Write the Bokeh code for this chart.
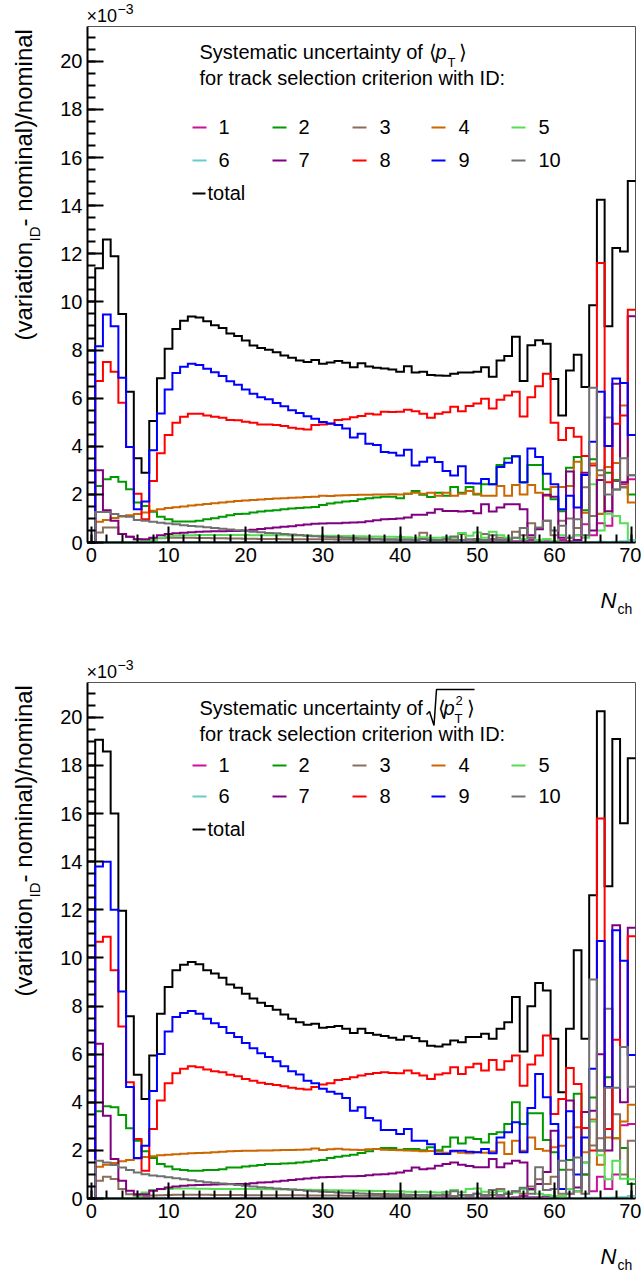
import numpy as np
from bokeh.plotting import figure
from bokeh.models import Range1d, FixedTicker, Label
from bokeh.layouts import column
from bokeh.embed import file_html
from bokeh.resources import INLINE

# ---------------- data: bin contents (x 1e-3) for N_ch = 0..70 ----------------
X_TICKS = [0, 10, 20, 30, 40, 50, 60, 70]
X_MINOR = [0, 2, 4, 6, 8, 10, 12, 14, 16, 18, 20, 22, 24, 26, 28, 30, 32, 34, 36, 38, 40,
           42, 44, 46, 48, 50, 52, 54, 56, 58, 60, 62, 64, 66, 68, 70]
Y_TICKS = [0, 2, 4, 6, 8, 10, 12, 14, 16, 18, 20]
Y_MINOR = [0, 0.5, 1, 1.5, 2, 2.5, 3, 3.5, 4, 4.5, 5, 5.5, 6, 6.5, 7, 7.5, 8, 8.5, 9, 9.5, 10,
           10.5, 11, 11.5, 12, 12.5, 13, 13.5, 14, 14.5, 15, 15.5, 16, 16.5, 17, 17.5, 18,
           18.5, 19, 19.5, 20, 20.5, 21]
IDS = ["1", "2", "3", "4", "5", "6", "7", "8", "9", "10"]
COLORS = ["#cc1199", "#009a00", "#8b6d5c", "#cc6600", "#55dd55",
          "#66cccc", "#800080", "#ff0000", "#0000ff", "#707070"]

# ---- <pT> panel ----
T_total = [0, 11.4, 12.6, 11.9, 9.5, 6.27, 3.5, 2.9, 5.05, 6.83,
           8.05, 8.87, 9.22, 9.39, 9.35, 9.2, 9.03, 8.92, 8.69, 8.58,
           8.4, 8.19, 8.09, 8.01, 7.91, 7.77, 7.68, 7.57, 7.5, 7.59,
           7.43, 7.48, 7.54, 7.47, 7.29, 7.45, 7.32, 7.26, 7.23, 7.19,
           7.1, 7.33, 7.07, 7.1, 6.96, 6.94, 6.93, 7.01, 7.07, 7.07,
           7.1, 7.29, 6.89, 7.57, 7.75, 8.55, 6.71, 8.2, 8.41, 8.26,
           6.8, 5.28, 7.15, 7.8, 6.46, 9.86, 14.25, 8.99, 12.24, 12.1,
           15.03]
T_id1 = [0, 0, 0.01, 0.01, 0.01, 0.01, 0.01, 0.01, 0.02, 0.02,
         0.02, 0.02, 0.02, 0.02, 0.02, 0.02, 0.02, 0.02, 0.02, 0.02,
         0.02, 0.02, 0.02, 0.02, 0.02, 0.02, 0.02, 0.02, 0.02, 0.02,
         0.02, 0.02, 0.02, 0.02, 0.02, 0.02, 0.02, 0.02, 0.02, 0.02,
         0.03, 0.03, 0.03, 0.03, 0.05, 0.03, 0.03, 0.03, 0.1, 0.03,
         0.05, 0.03, 0.05, 0.05, 0.05, 0.05, 0.05, 0.1, 0.05, 0.05,
         0.05, 0.1, 0.05, 0.3, 0.76, 0.3, 0.8, 0.7, 2.56, 2.42,
         2.63]
T_id2 = [0, 2.35, 2.63, 2.72, 2.53, 2.21, 1.66, 1.52, 1.28, 1.07,
         0.97, 0.87, 0.87, 0.87, 0.9, 0.97, 1.01, 1.07, 1.13, 1.18,
         1.2, 1.25, 1.29, 1.32, 1.34, 1.38, 1.41, 1.43, 1.45, 1.48,
         1.56, 1.62, 1.66, 1.7, 1.73, 1.8, 1.84, 1.87, 1.9, 1.9,
         1.84, 2.03, 2.14, 1.98, 1.89, 2.07, 1.94, 2.31, 2.07, 2.31,
         2.0, 2.42, 2.42, 3.22, 3.5, 3.6, 2.49, 3.22, 3.22, 2.21,
         1.8, 1.3, 3.11, 3.55, 1.34, 3.46, 1.2, 2.9, 2.6, 2.3,
         2.0]
T_id3 = [0, 0.42, 0.62, 0.62, 0.35, 0.24, 0.14, 0.1, 0.15, 0.18,
         0.2, 0.2, 0.2, 0.2, 0.19, 0.19, 0.18, 0.18, 0.17, 0.17,
         0.16, 0.16, 0.15, 0.15, 0.15, 0.14, 0.14, 0.14, 0.13, 0.13,
         0.13, 0.13, 0.12, 0.12, 0.12, 0.12, 0.12, 0.12, 0.11, 0.11,
         0.11, 0.12, 0.1, 0.41, 0.12, 0.1, 0.15, 0.1, 0.35, 0.12,
         0.15, 0.35, 0.15, 0.2, 0.1, 0.45, 0.3, 0.8, 0.6, 0.9,
         0.3, 0.9, 1.0, 0.6, 2.3, 1.1, 2.8, 5.2, 2.2, 2.3,
         2.8]
T_id4 = [0, 0.86, 0.94, 1.02, 1.08, 1.13, 1.18, 1.25, 1.32, 1.38,
         1.43, 1.47, 1.5, 1.54, 1.57, 1.6, 1.63, 1.66, 1.69, 1.72,
         1.75, 1.77, 1.79, 1.81, 1.83, 1.84, 1.86, 1.87, 1.89, 1.9,
         1.94, 1.93, 1.95, 1.96, 1.97, 1.98, 1.99, 2.0, 2.0, 2.01,
         2.0, 2.03, 2.07, 2.03, 2.07, 1.94, 2.07, 1.94, 2.03, 2.14,
         2.03, 1.94, 1.94, 2.35, 1.94, 2.39, 2.0, 2.39, 2.07, 1.94,
         2.31, 2.31, 2.35, 3.36, 1.24, 3.28, 1.18, 3.14, 3.3, 5.7,
         1.66]
T_id5 = [0, 0, 0, 0, 0, 0, 0.02, 0.05, 0.1, 0.2,
         0.26, 0.28, 0.3, 0.3, 0.31, 0.31, 0.31, 0.31, 0.31, 0.31,
         0.31, 0.3, 0.3, 0.3, 0.3, 0.3, 0.29, 0.29, 0.29, 0.28,
         0.28, 0.28, 0.27, 0.27, 0.26, 0.26, 0.25, 0.25, 0.24, 0.24,
         0.23, 0.22, 0.2, 0.22, 0.2, 0.2, 0.22, 0.2, 0.4, 0.28,
         0.42, 0.2, 0.45, 0.3, 0.2, 0.2, 0.15, 0.2, 0.1, 0.15,
         0.05, 0.3, 0.2, 0.3, 0.2, 2.42, 0.5, 1.2, 1.1, 0.8,
         0.1]
T_id6 = [0, 0, 0, 0, 0, 0, 0, 0, 0.01, 0.01,
         0.01, 0.01, 0.01, 0.01, 0.01, 0.01, 0.01, 0.01, 0.01, 0.01,
         0.01, 0.01, 0.01, 0.01, 0.01, 0.01, 0.01, 0.01, 0.01, 0.01,
         0.01, 0.01, 0.01, 0.01, 0.01, 0.01, 0.01, 0.01, 0.01, 0.01,
         0.01, 0.01, 0.01, 0.01, 0.01, 0.01, 0.01, 0.01, 0.01, 0.01,
         0.01, 0.01, 0.01, 0.01, 0.01, 0.01, 0.01, 0.01, 0.01, 0.01,
         0.01, 0.01, 0.01, 0.02, 0.01, 0.02, 0.03, 0.02, 0.03, 0.05,
         0.1]
T_id7 = [0, 3.0, 1.34, 0.9, 0.35, 0.24, 0.14, 0.14, 0.2, 0.3,
         0.35, 0.38, 0.41, 0.43, 0.45, 0.46, 0.47, 0.47, 0.48, 0.48,
         0.5, 0.53, 0.56, 0.59, 0.62, 0.65, 0.68, 0.72, 0.75, 0.78,
         0.79, 0.8, 0.8, 0.82, 0.83, 0.84, 0.88, 0.93, 0.97, 0.98,
         1.0, 1.04, 1.15, 1.15, 1.24, 1.38, 1.31, 1.31, 1.29, 1.31,
         1.22, 1.59, 1.29, 1.45, 1.59, 1.59, 1.38, 0.3, 0.55, 1.98,
         1.9, 0.2, 2.95, 0.1, 2.9, 0.5, 2.6, 1.3, 6.6, 2.5,
         9.4]
T_id8 = [0, 6.71, 7.5, 7.1, 5.81, 3.97, 2.03, 0.97, 2.56, 3.71,
         4.47, 4.98, 5.23, 5.35, 5.35, 5.28, 5.23, 5.19, 5.09, 5.08,
         5.02, 4.98, 4.91, 4.91, 4.88, 4.84, 4.77, 4.73, 4.7, 4.88,
         4.91, 4.94, 5.09, 5.12, 5.21, 5.26, 5.35, 5.32, 5.44, 5.42,
         5.44, 5.52, 5.46, 5.35, 5.19, 5.35, 5.41, 5.64, 5.46, 5.67,
         5.78, 5.98, 5.57, 5.93, 6.11, 6.27, 5.24, 6.04, 6.5, 7.01,
         4.98, 4.26, 4.76, 4.4, 3.6, 3.2, 11.62, 2.5, 4.94, 5.28,
         9.68]
T_id9 = [0, 8.16, 9.48, 8.99, 6.85, 3.97, 1.38, 1.7, 3.83, 5.36,
         6.36, 7.05, 7.31, 7.43, 7.38, 7.22, 7.08, 6.92, 6.7, 6.56,
         6.36, 6.18, 6.04, 5.95, 5.8, 5.66, 5.5, 5.38, 5.25, 5.14,
         5.01, 4.95, 4.88, 4.74, 4.36, 4.52, 4.11, 4.05, 3.76, 3.73,
         3.62, 3.86, 3.2, 3.36, 3.53, 3.35, 2.97, 2.78, 3.17, 2.46,
         2.45, 2.64, 2.42, 3.14, 3.32, 3.57, 2.5, 3.91, 3.55, 2.86,
         2.42, 1.38, 1.94, 1.45, 2.81, 4.19, 6.27, 4.01, 6.82, 6.63,
         4.47]
T_id10 = [0, 1.27, 1.27, 1.18, 1.1, 1.07, 0.94, 0.9, 0.86, 0.82,
          0.79, 0.76, 0.72, 0.69, 0.66, 0.63, 0.6, 0.57, 0.54, 0.51,
          0.48, 0.45, 0.43, 0.4, 0.38, 0.35, 0.33, 0.31, 0.28, 0.26,
          0.24, 0.23, 0.22, 0.2, 0.19, 0.18, 0.17, 0.16, 0.14, 0.13,
          0.12, 0.12, 0.11, 0.15, 0.1, 0.1, 0.12, 0.25, 0.1, 0.12,
          0.1, 0.1, 0.3, 0.1, 0.12, 0.2, 0.6, 0.2, 0.62, 0.9,
          0.5, 0.7, 0.2, 0.97, 0.3, 6.43, 3.0, 2.0, 2.2, 3.5,
          2.8]

# ---- sqrt(<pT^2>) panel ----
B_total = [0, 19.07, 18.58, 16.0, 11.96, 7.58, 5.14, 4.14, 5.94, 7.68,
           8.79, 9.49, 9.72, 9.83, 9.74, 9.49, 9.35, 9.18, 8.9, 8.76,
           8.51, 8.31, 8.14, 8.0, 7.85, 7.65, 7.47, 7.33, 7.22, 7.26,
           7.1, 7.13, 7.17, 7.06, 6.88, 7.06, 6.88, 6.81, 6.75, 6.68,
           6.6, 6.74, 6.67, 6.54, 6.35, 6.32, 6.4, 6.57, 6.5, 6.71,
           6.71, 6.85, 6.64, 7.06, 7.33, 8.38, 6.11, 7.99, 8.96, 8.65,
           6.64, 4.42, 7.06, 10.32, 6.64, 12.61, 20.25, 12.98, 19.1, 15.6,
           18.3]
B_id1 = [0, 0, 0.01, 0.01, 0.01, 0.01, 0.01, 0.01, 0.02, 0.02,
         0.02, 0.02, 0.02, 0.02, 0.02, 0.02, 0.02, 0.02, 0.02, 0.02,
         0.02, 0.02, 0.02, 0.02, 0.02, 0.02, 0.02, 0.02, 0.02, 0.02,
         0.02, 0.02, 0.02, 0.02, 0.02, 0.02, 0.02, 0.02, 0.02, 0.02,
         0.03, 0.03, 0.03, 0.03, 0.03, 0.03, 0.05, 0.03, 0.03, 0.05,
         0.03, 0.05, 0.03, 0.05, 0.03, 0.05, 0.1, 0.05, 0.05, 0.1,
         0.05, 0.1, 0.2, 0.3, 1.0, 0.3, 0.9, 0.4, 1.0, 3.05,
         3.1]
B_id2 = [0, 3.63, 3.83, 3.79, 3.47, 2.92, 2.4, 1.96, 1.68, 1.43,
         1.33, 1.22, 1.18, 1.15, 1.15, 1.18, 1.18, 1.22, 1.29, 1.29,
         1.33, 1.36, 1.39, 1.43, 1.43, 1.46, 1.47, 1.5, 1.53, 1.57,
         1.6, 1.68, 1.74, 1.78, 1.82, 1.89, 1.96, 2.06, 2.1, 2.1,
         2.03, 2.06, 2.06, 2.01, 2.13, 2.01, 2.15, 2.54, 2.29, 2.54,
         2.47, 2.33, 2.68, 2.75, 3.1, 4.0, 3.1, 3.54, 3.54, 2.43,
         1.92, 1.2, 1.6, 4.35, 1.0, 4.2, 2.0, 5.04, 2.5, 2.1,
         0.6]
B_id3 = [0, 0.74, 0.9, 0.81, 0.39, 0.18, 0.12, 0.1, 0.12, 0.14,
         0.15, 0.16, 0.16, 0.16, 0.16, 0.16, 0.15, 0.15, 0.15, 0.15,
         0.14, 0.14, 0.14, 0.14, 0.13, 0.13, 0.13, 0.13, 0.12, 0.12,
         0.12, 0.12, 0.12, 0.11, 0.11, 0.11, 0.11, 0.11, 0.1, 0.1,
         0.1, 0.1, 0.12, 0.1, 0.1, 0.12, 0.25, 0.1, 0.15, 0.12,
         0.2, 0.12, 0.15, 0.4, 0.2, 0.3, 0.2, 0.5, 0.8, 0.6,
         0.9, 0.2, 1.2, 0.3, 1.5, 2.2, 2.5, 7.89, 3.5, 1.0,
         2.4]
B_id4 = [0, 1.32, 1.4, 1.48, 1.55, 1.6, 1.66, 1.72, 1.76, 1.8,
         1.82, 1.84, 1.86, 1.88, 1.89, 1.9, 1.92, 1.94, 1.96, 1.97,
         1.98, 1.99, 2.0, 2.0, 2.01, 2.02, 2.02, 2.03, 2.04, 2.08,
         2.02, 2.05, 2.07, 2.04, 2.03, 2.02, 2.05, 2.06, 2.03, 2.02,
         2.01, 2.0, 1.98, 1.96, 1.97, 1.94, 1.9, 1.95, 1.9, 1.88,
         1.92, 1.9, 1.95, 2.33, 1.85, 2.4, 1.99, 2.54, 2.06, 1.99,
         2.13, 2.19, 2.54, 2.96, 1.92, 3.28, 1.4, 2.54, 2.5, 3.2,
         3.9]
B_id5 = [0, 0, 0, 0, 0, 0, 0.05, 0.25, 0.35, 0.38,
         0.4, 0.42, 0.42, 0.42, 0.41, 0.41, 0.4, 0.4, 0.4, 0.4,
         0.4, 0.39, 0.39, 0.38, 0.38, 0.37, 0.37, 0.36, 0.36, 0.35,
         0.35, 0.34, 0.34, 0.33, 0.33, 0.32, 0.32, 0.31, 0.31, 0.3,
         0.3, 0.28, 0.27, 0.28, 0.26, 0.25, 0.27, 0.35, 0.26, 0.4,
         0.42, 0.28, 0.25, 0.3, 0.25, 0.25, 0.4, 0.35, 0.2, 0.15,
         0.1, 0.1, 0.4, 0.3, 1.5, 3.2, 1.8, 0.8, 1.57, 0.82,
         0.8]
B_id6 = [0, 0, 0, 0, 0, 0, 0, 0, 0.01, 0.01,
         0.01, 0.01, 0.01, 0.01, 0.01, 0.01, 0.01, 0.01, 0.01, 0.01,
         0.01, 0.01, 0.01, 0.01, 0.01, 0.01, 0.01, 0.01, 0.01, 0.01,
         0.01, 0.01, 0.01, 0.01, 0.01, 0.01, 0.01, 0.01, 0.01, 0.01,
         0.01, 0.01, 0.01, 0.01, 0.01, 0.01, 0.01, 0.01, 0.01, 0.01,
         0.01, 0.01, 0.01, 0.01, 0.01, 0.01, 0.01, 0.01, 0.01, 0.01,
         0.01, 0.01, 0.02, 0.01, 0.02, 0.03, 0.02, 0.03, 0.04, 0.05,
         0.1]
B_id7 = [0, 6.43, 3.44, 1.64, 0.74, 0.32, 0.18, 0.18, 0.32, 0.39,
         0.46, 0.5, 0.53, 0.55, 0.56, 0.57, 0.58, 0.59, 0.6, 0.6,
         0.6, 0.63, 0.66, 0.68, 0.71, 0.74, 0.77, 0.8, 0.83, 0.86,
         0.88, 0.89, 0.9, 0.92, 0.93, 0.94, 0.97, 1.0, 1.01, 1.04,
         1.08, 1.15, 1.29, 1.22, 1.25, 1.36, 1.43, 1.5, 1.4, 1.35,
         1.3, 1.3, 1.64, 1.3, 1.45, 1.57, 1.5, 0.4, 0.6, 1.1,
         2.82, 0.39, 4.07, 0.46, 3.6, 3.65, 6.0, 2.0, 11.36, 4.0,
         11.25]
B_id8 = [0, 10.67, 10.88, 9.49, 7.15, 4.83, 2.47, 1.15, 2.89, 4.07,
         4.79, 5.21, 5.39, 5.5, 5.46, 5.36, 5.29, 5.25, 5.14, 5.08,
         4.97, 4.9, 4.81, 4.76, 4.72, 4.67, 4.6, 4.56, 4.53, 4.63,
         4.74, 4.79, 4.93, 4.97, 5.04, 5.11, 5.18, 5.22, 5.25, 5.22,
         5.21, 5.32, 5.21, 5.11, 4.97, 5.15, 5.21, 5.46, 5.18, 5.46,
         5.6, 5.32, 5.76, 5.35, 5.71, 5.94, 4.69, 5.57, 5.94, 6.78,
         3.51, 4.14, 5.43, 4.76, 2.93, 2.0, 15.8, 2.89, 6.6, 6.3,
         10.9]
B_id9 = [0, 13.8, 14.0, 12.0, 8.61, 4.63, 1.68, 2.19, 4.47, 6.01,
         6.94, 7.54, 7.71, 7.79, 7.68, 7.47, 7.29, 7.13, 6.88, 6.71,
         6.46, 6.25, 6.04, 5.88, 5.71, 5.5, 5.29, 5.15, 4.9, 4.79,
         4.56, 4.44, 4.35, 4.18, 3.65, 3.79, 3.35, 3.24, 2.85, 2.85,
         2.68, 2.89, 2.4, 2.4, 2.26, 1.85, 1.85, 1.99, 1.99, 1.94,
         1.92, 2.06, 1.88, 2.54, 2.75, 3.17, 1.92, 3.76, 5.18, 4.21,
         3.1, 0.39, 3.63, 1.0, 2.54, 5.39, 10.7, 4.63, 11.15, 9.88,
         5.97]
B_id10 = [0, 1.57, 1.5, 1.39, 1.29, 1.18, 1.08, 1.01, 0.96, 0.92,
          0.88, 0.84, 0.8, 0.76, 0.72, 0.68, 0.65, 0.62, 0.59, 0.56,
          0.53, 0.5, 0.47, 0.45, 0.42, 0.39, 0.37, 0.35, 0.32, 0.3,
          0.28, 0.27, 0.25, 0.24, 0.23, 0.21, 0.2, 0.19, 0.19, 0.18,
          0.18, 0.16, 0.15, 0.15, 0.14, 0.14, 0.15, 0.3, 0.14, 0.15,
          0.2, 0.15, 0.35, 0.15, 0.2, 0.3, 0.45, 0.2, 1.3, 0.35,
          0.4, 1.57, 0.2, 1.7, 0.2, 9.1, 2.0, 4.6, 4.6, 6.3,
          4.65]

TOP_SERIES = [T_id1, T_id2, T_id3, T_id4, T_id5, T_id6, T_id7, T_id8, T_id9, T_id10]
BOT_SERIES = [B_id1, B_id2, B_id3, B_id4, B_id5, B_id6, B_id7, B_id8, B_id9, B_id10]

# ---------------- layout constants (pixels) ----------------
W = 641
FL, FR, FT, FB = 87, 635, 26, 542          # plotting-area edges inside each figure
XMIN, XMAX = -0.5, 70.5
YMAX = 21.45
FONT = "Liberation Sans"
BASE_SHIFT = 0.4                            # baseline correction (fraction of font size)


def X(px):
    return XMIN + (px - FL) * (XMAX - XMIN) / (FR - FL)


def Y(py):
    return (FB - py) * YMAX / (FB - FT)


def lab(p, px, py, text, size, style="normal", rotated=False):
    """Place text with its alphabetic baseline at pixel (px, py)."""
    if rotated:
        px = px - BASE_SHIFT * size
        ang = np.pi / 2
    else:
        py = py - BASE_SHIFT * size
        ang = 0.0
    p.add_layout(Label(x=X(px), y=Y(py), x_units="data", y_units="data", text=text,
                       text_font=FONT, text_font_size=f"{size}px", text_font_style=style,
                       text_color="black", text_align="left", text_baseline="alphabetic",
                       angle=ang))


def make_panel(height, total, series, kind):
    p = figure(width=W, height=height, output_backend="svg", toolbar_location=None,
               x_range=Range1d(X(0), X(W)), y_range=Range1d(Y(height), Y(0)),
               min_border=0, min_border_left=0, min_border_right=0,
               min_border_top=0, min_border_bottom=0)
    p.xgrid.visible = False
    p.ygrid.visible = False
    p.background_fill_color = "white"
    p.border_fill_color = "white"
    p.outline_line_color = None

    for ax, ticks, minor in ((p.xaxis[0], X_TICKS, X_MINOR), (p.yaxis[0], Y_TICKS, Y_MINOR)):
        ax.ticker = FixedTicker(ticks=ticks, minor_ticks=minor)
        ax.axis_line_width = 2
        ax.axis_line_color = "black"
        ax.major_tick_in = 16
        ax.major_tick_out = 0
        ax.minor_tick_in = 8
        ax.minor_tick_out = 0
        ax.major_tick_line_width = 2
        ax.minor_tick_line_width = 2
        ax.major_tick_line_color = "black"
        ax.minor_tick_line_color = "black"
        ax.major_label_text_font = FONT
        ax.major_label_text_font_size = "20px"
        ax.major_label_text_color = "black"
        ax.major_label_standoff = 5
    p.xaxis[0].fixed_location = 0
    p.xaxis[0].bounds = (XMIN, XMAX)
    p.yaxis[0].fixed_location = XMIN
    p.yaxis[0].bounds = (0, YMAX)

    # thin frame on top and right
    p.line([XMIN, XMAX, XMAX], [YMAX, YMAX, 0], line_color="#555555", line_width=1)

    edges = np.arange(len(total) + 1) - 0.5
    p.step(x=edges, y=np.append(total, total[-1]), mode="after",
           line_color="black", line_width=2, line_join="miter")
    for vals, col in zip(series, COLORS):
        e = np.arange(len(vals) + 1) - 0.5
        p.step(x=e, y=np.append(vals, vals[-1]), mode="after",
               line_color=col, line_width=2, line_join="miter")

    # axis titles
    lab(p, 33, 340, "(variation", 24, rotated=True)
    lab(p, 40, 241, "ID", 15, rotated=True)
    lab(p, 33, 226, " - nominal)/nominal", 24, rotated=True)
    lab(p, 86, 23, "\u00d710", 18)
    lab(p, 117, 14, "\u22123", 14)
    lab(p, 600, 609, "N", 22, style="italic")
    lab(p, 617, 614, "ch", 14)

    # legend header
    lab(p, 199, 59, "Systematic uncertainty of", 20)
    lab(p, 199, 85, "for track selection criterion with ID:", 20)
    if kind == "mean":
        lab(p, 428, 59, "\u27e8", 20)
        lab(p, 435, 59, "p", 20, style="italic")
        lab(p, 447, 67, "T", 13)
        lab(p, 458, 59, "\u27e9", 20)
        rows = (127, 160, 193)
    else:
        sx = [426, 429, 433.5, 436, 474]
        sy = [58, 55, 69, 33, 33]
        p.line([X(v) for v in sx], [Y(v) for v in sy], line_color="black", line_width=1.5)
        lab(p, 437, 59, "\u27e8", 20)
        lab(p, 443, 59, "p", 20, style="italic")
        lab(p, 455, 49, "2", 13)
        lab(p, 454, 67, "T", 13)
        lab(p, 466, 59, "\u27e9", 20)
        rows = (109, 140, 173)

    col_x = [192, 272, 352, 431, 511]
    txt_x = [218, 298, 379, 458, 538]
    for k, (name, colr) in enumerate(zip(IDS, COLORS)):
        r, c = divmod(k, 5)
        ry = rows[r]
        p.line([X(col_x[c]), X(col_x[c] + 14)], [Y(ry), Y(ry)], line_color=colr, line_width=2)
        lab(p, txt_x[c], ry + 7, name, 20)
    p.line([X(192), X(205)], [Y(rows[2]), Y(rows[2])], line_color="black", line_width=2)
    lab(p, 207, rows[2] + 7, "total", 20)
    return p


p1 = make_panel(656, T_total, TOP_SERIES, "mean")
p2 = make_panel(619, B_total, BOT_SERIES, "rms")
layout = column(p1, p2)
open("out.html", "w").write(file_html(layout, INLINE))
